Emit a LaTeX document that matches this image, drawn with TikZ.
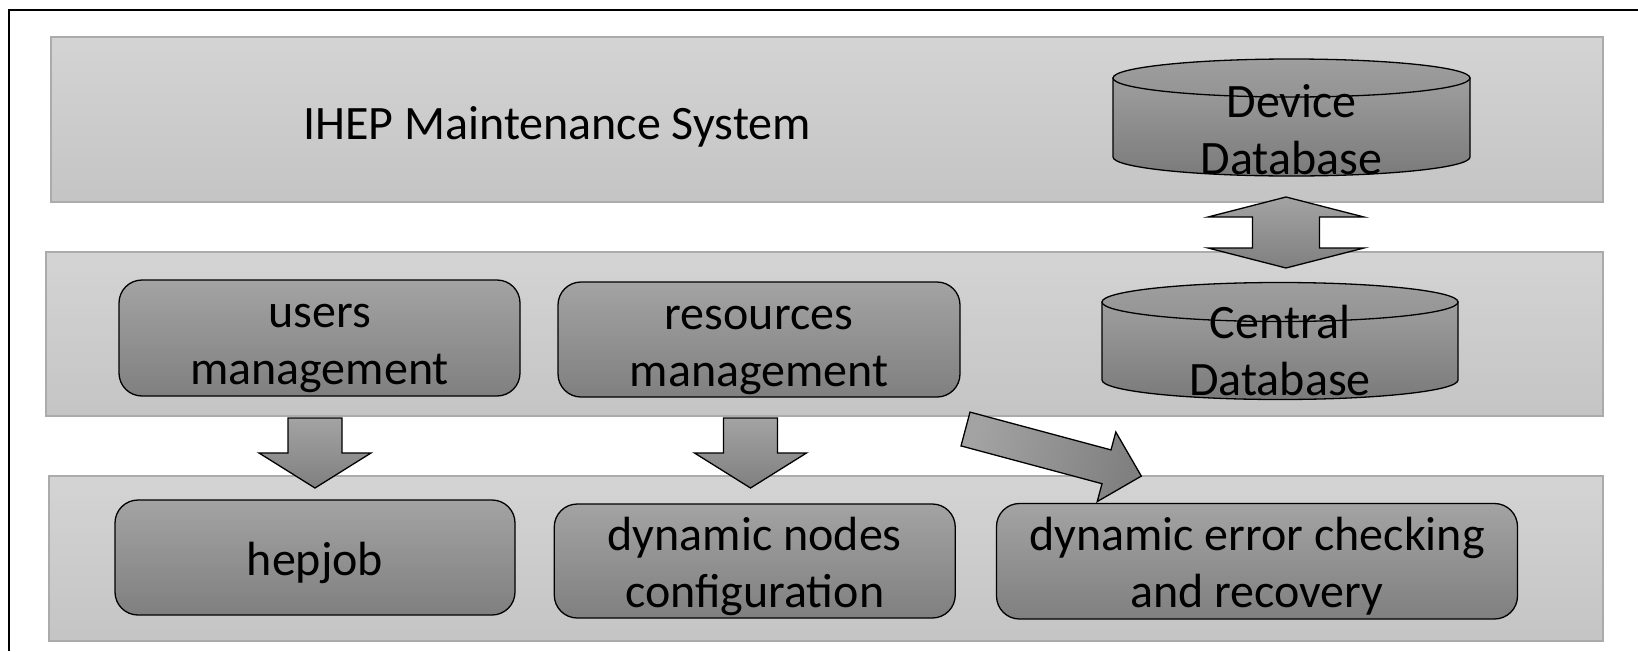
\documentclass[tikz,border=0pt]{standalone}
\usepackage{fontspec}
\setmainfont{Carlito}
\newcommand\lnstrut{\rule[-10.5pt]{0pt}{57pt}}
\begin{document}
\begin{tikzpicture}[x=1pt,y=-1pt,
  font=\fontsize{48}{57}\selectfont,
  tierband/.style={draw=black!33, line width=1.2pt, top color=black!17, bottom color=black!23, inner sep=0pt},
  procbox/.style={draw=black, line width=1.3pt, rounded corners=23pt,
    top color=black!36, bottom color=black!50, inner sep=0pt, align=center},
  dbbody/.style={draw=black, line width=1.3pt, top color=black!38, bottom color=black!52},
  dbtop/.style={draw=black, line width=1.3pt, top color=black!38, bottom color=black!42},
  dbtext/.style={inner sep=0pt, align=center},
  blockarrow/.style={draw=black, line width=1.3pt, top color=black!36, bottom color=black!50},
  blockdown/.pic={\draw[blockarrow] (-27,0) -- (27,0) -- (27,35) -- (56,35) -- (0,70)
      -- (-56,35) -- (-27,35) -- cycle;},
  blockboth/.pic={\draw[blockarrow] (0,-35.5) -- (78,-15.5) -- (33.5,-15.5) -- (33.5,15.5)
      -- (78,15.5) -- (0,35.5) -- (-78,15.5) -- (-33.5,15.5) -- (-33.5,-15.5)
      -- (-78,-15.5) -- cycle;}]
\useasboundingbox (0,0) rectangle (1638,651);

% outer frame
\draw[line width=2.4pt] (9,651) -- (9,10) -- (1638,10);

% three tiers
\node[tierband, minimum width=1552pt, minimum height=165pt] (tier1) at (827,119.5) {};
\node[tierband, minimum width=1557pt, minimum height=164pt] (tier2) at (824.5,334) {};
\node[tierband, minimum width=1554pt, minimum height=165pt] (tier3) at (826,558.5) {};

\node[inner sep=0pt] (ihep) at (557,121) {\lnstrut IHEP Maintenance System};

% device database
\draw[dbbody] (1113,78) -- (1113,157) arc[start angle=180,end angle=360,x radius=178.5pt,y radius=19pt] -- (1470,78) -- cycle;
\draw[dbtop] (1291.5,78) ellipse[x radius=178.5pt, y radius=19pt];
\node[dbtext] (devdb) at (1291.5,127.5) {\lnstrut Device\\\lnstrut Database};

% central database
\draw[dbbody] (1102,302) -- (1102,380) arc[start angle=180,end angle=360,x radius=178pt,y radius=19.5pt] -- (1458,302) -- cycle;
\draw[dbtop] (1280,302) ellipse[x radius=178pt, y radius=19.5pt];
\node[dbtext] (cendb) at (1280,349.4) {\lnstrut Central\\\lnstrut Database};

% management boxes
\node[procbox, minimum width=401pt, minimum height=116pt] (users) at (319.5,338) {\lnstrut users\\\lnstrut management};
\node[procbox, minimum width=402pt, minimum height=115pt] (res) at (759,339.5) {\lnstrut resources\\\lnstrut management};

% service boxes
\node[procbox, minimum width=400pt, minimum height=115pt] (hepjob) at (315,557.5) {\lnstrut hepjob};
\node[procbox, minimum width=401pt, minimum height=114pt] (dynnodes) at (754.75,561) {\lnstrut dynamic nodes\\\lnstrut configuration};
\node[procbox, minimum width=521pt, minimum height=115.5pt] (dynerr) at (1257,561.25) {\lnstrut dynamic error checking\\\lnstrut and recovery};

% block arrows
\pic at (315,418) {blockdown};
\pic at (750.5,418) {blockdown};
\pic at (1286,232.5) {blockboth};
\draw[blockarrow, shading angle=75] (970,412.1) -- (1111,449.9) -- (1115.8,432) -- (1141.3,476.1)
  -- (1097.2,501.6) -- (1102,483.7) -- (961,445.9) -- cycle;
\end{tikzpicture}
\end{document}
